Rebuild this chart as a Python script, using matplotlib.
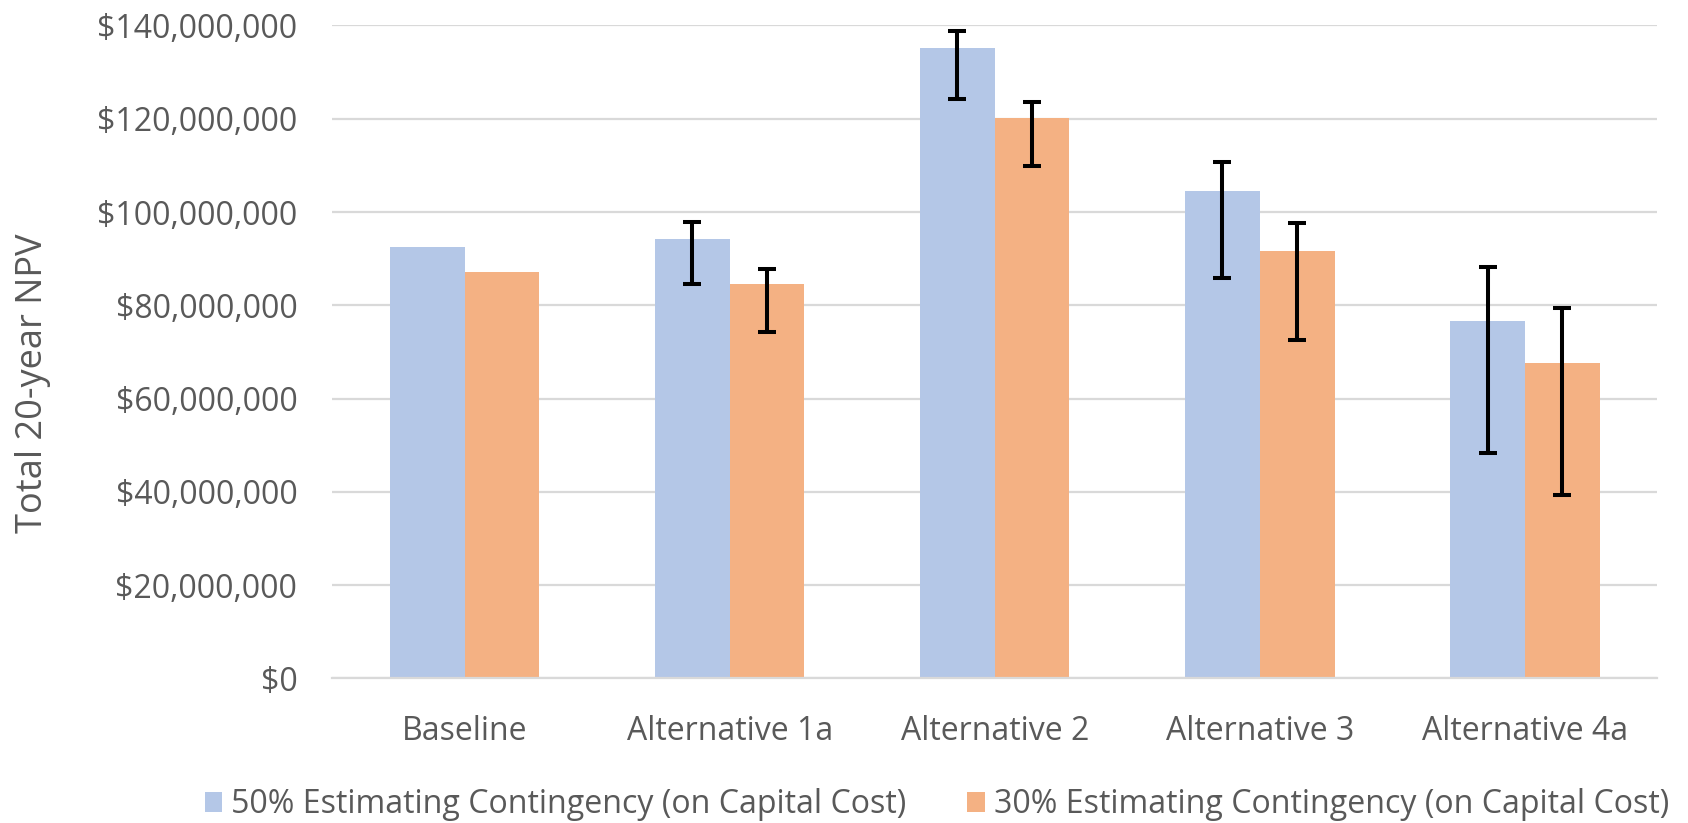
import matplotlib
matplotlib.use('Agg')
import matplotlib.pyplot as plt
from matplotlib.ticker import FuncFormatter
import numpy as np

categories = ['Baseline', 'Alternative 1a', 'Alternative 2', 'Alternative 3', 'Alternative 4a']
series_names = ['50% Estimating Contingency (on Capital Cost)',
                '30% Estimating Contingency (on Capital Cost)']

# values in $ millions
npv_50 = [92.6, 94.2, 135.1, 104.6, 76.6]
npv_30 = [87.1, 84.5, 120.2, 91.7, 67.6]
# error bar ends (baseline has none)
high_50 = [np.nan, 97.8, 138.7, 110.8, 88.3]
low_50 = [np.nan, 84.5, 124.3, 85.8, 48.4]
high_30 = [np.nan, 87.7, 123.6, 97.6, 79.4]
low_30 = [np.nan, 74.2, 109.9, 72.6, 39.3]

yticks = [0, 20, 40, 60, 80, 100, 120, 140]

blue = '#B4C7E7'
orange = '#F4B183'
grey_text = '#595959'
grid_col = '#D9D9D9'

plt.rcParams['font.family'] = ['Open Sans', 'DejaVu Sans']

fig = plt.figure(figsize=(16.88, 8.23), dpi=100)
ax = fig.add_axes([0.1967, 0.1756, 0.7852, 0.7935])

x = np.arange(len(categories))
w = 0.282
ax.bar(x - w / 2, np.array(npv_50) * 1e6, w, color=blue, label=series_names[0], zorder=2)
ax.bar(x + w / 2, np.array(npv_30) * 1e6, w, color=orange, label=series_names[1], zorder=2)

for off, vals, hi, lo in [(-w / 2, npv_50, high_50, low_50), (w / 2, npv_30, high_30, low_30)]:
    vals = np.array(vals) * 1e6
    hi = np.array(hi) * 1e6
    lo = np.array(lo) * 1e6
    ok = ~np.isnan(hi)
    yerr = np.vstack([vals[ok] - lo[ok], hi[ok] - vals[ok]])
    ax.errorbar(x[ok] + off, vals[ok], yerr=yerr, fmt='none', ecolor='black',
                elinewidth=2.9, capsize=6.5, capthick=2.9, zorder=3)

ax.set_xlim(-0.5, len(categories) - 0.5)
ax.set_ylim(0, 140e6)
ax.set_yticks([v * 1e6 for v in yticks])
ax.yaxis.set_major_formatter(FuncFormatter(lambda v, p: '${:,.0f}'.format(v)))
ax.set_xticks(x)
ax.set_xticklabels(categories)
ax.tick_params(axis='both', length=0, labelsize=23, colors=grey_text)
ax.tick_params(axis='y', pad=25)
ax.tick_params(axis='x', pad=26)

ax.grid(axis='y', color=grid_col, linewidth=1.6, zorder=0)
ax.set_axisbelow(True)
for s in ['top', 'right', 'left']:
    ax.spines[s].set_visible(False)
ax.spines['bottom'].set_color(grid_col)
ax.spines['bottom'].set_linewidth(1.6)

ax.set_ylabel('Total 20-year NPV', fontsize=26, color=grey_text)
ax.yaxis.set_label_coords(-0.212, 0.452)

fig.legend(loc='center', bbox_to_anchor=(0.555, 0.022), ncol=2, frameon=False,
           fontsize=23.1, handlelength=0.55, handleheight=0.55, handletextpad=0.27,
           columnspacing=1.9, labelcolor=grey_text)

fig.savefig('out.png', dpi=100)
